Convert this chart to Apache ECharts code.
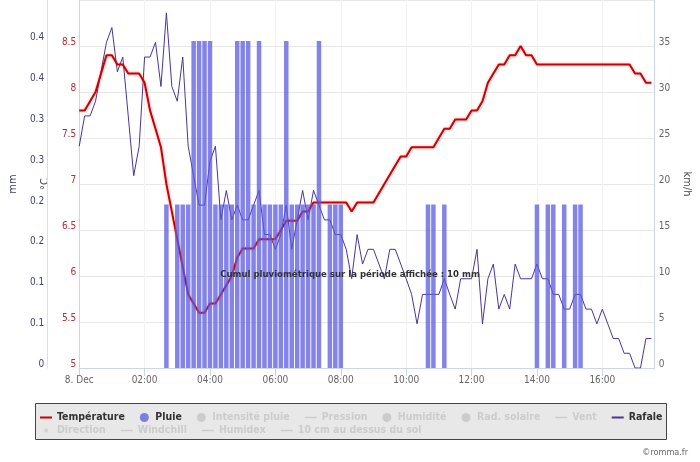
<!DOCTYPE html>
<html><head><meta charset="utf-8">
<script src="https://cdn.jsdelivr.net/npm/echarts@6/dist/echarts.min.js"></script>
<style>html,body{margin:0;padding:0;background:#fff}#c{width:700px;height:462px}</style>
</head><body><div id="c"></div>
<script>
const times = [
'00:00','00:10','00:20','00:30','00:40','00:50','01:00','01:10','01:20','01:30','01:40','01:50',
'02:00','02:10','02:20','02:30','02:40','02:50','03:00','03:10','03:20','03:30','03:40','03:50',
'04:00','04:10','04:20','04:30','04:40','04:50','05:00','05:10','05:20','05:30','05:40','05:50',
'06:00','06:10','06:20','06:30','06:40','06:50','07:00','07:10','07:20','07:30','07:40','07:50',
'08:00','08:10','08:20','08:30','08:40','08:50','09:00','09:10','09:20','09:30','09:40','09:50',
'10:00','10:10','10:20','10:30','10:40','10:50','11:00','11:10','11:20','11:30','11:40','11:50',
'12:00','12:10','12:20','12:30','12:40','12:50','13:00','13:10','13:20','13:30','13:40','13:50',
'14:00','14:10','14:20','14:30','14:40','14:50','15:00','15:10','15:20','15:30','15:40','15:50',
'16:00','16:10','16:20','16:30','16:40','16:50','17:00','17:10','17:20','17:30'];

const temperature = [
7.8,7.8,7.9,8.0,8.2,8.4,8.4,8.3,8.3,8.2,
8.2,8.2,8.1,7.8,7.6,7.4,7.0,6.7,6.4,6.1,
5.8,5.7,5.6,5.6,5.7,5.7,5.8,5.9,6.0,6.2,
6.3,6.3,6.3,6.4,6.4,6.4,6.4,6.5,6.6,6.6,
6.6,6.7,6.7,6.8,6.8,6.8,6.8,6.8,6.8,6.8,
6.7,6.8,6.8,6.8,6.8,6.9,7.0,7.1,7.2,7.3,
7.3,7.4,7.4,7.4,7.4,7.4,7.5,7.6,7.6,7.7,
7.7,7.7,7.8,7.8,7.9,8.1,8.2,8.3,8.3,8.4,
8.4,8.5,8.4,8.4,8.3,8.3,8.3,8.3,8.3,8.3,
8.3,8.3,8.3,8.3,8.3,8.3,8.3,8.3,8.3,8.3,
8.3,8.3,8.2,8.2,8.1,8.1];

const rain = [
0,0,0,0,0,0,0,0,0,0,
0,0,0,0,0,0,0.2,0,0.2,0.2,
0.2,0.4,0.4,0.4,0.4,0.2,0.2,0.2,0.2,0.4,
0.4,0.4,0.2,0.4,0.2,0.2,0.2,0.2,0.4,0.2,
0.2,0.2,0.2,0.2,0.4,0,0.2,0.2,0.2,0,
0,0,0,0,0,0,0,0,0,0,
0,0,0,0,0.2,0.2,0,0.2,0,0,
0,0,0,0,0,0,0,0,0,0,
0,0,0,0,0.2,0,0.2,0.2,0,0.2,
0,0.2,0.2,0,0,0,0,0,0,0,
0,0,0,0,0,0];

const gust = [
24.1,27.4,27.4,29.0,32.2,35.4,37.0,32.2,33.8,27.4,
20.9,24.1,33.8,33.8,35.4,30.6,38.6,30.6,29.0,33.8,
24.1,20.9,17.7,17.7,22.5,24.1,16.1,19.3,16.1,17.7,
16.1,16.1,17.7,19.3,14.5,14.5,12.9,14.5,17.7,12.9,
16.1,19.3,16.1,19.3,17.7,16.1,16.1,14.5,14.5,12.9,
9.7,14.5,11.3,12.9,12.9,11.3,9.7,12.9,12.9,11.3,
9.7,8.0,4.8,8.0,8.0,8.0,8.0,9.7,8.0,6.4,
9.7,9.7,9.7,12.9,4.8,9.7,11.3,6.4,8.0,6.4,
11.3,9.7,9.7,9.7,11.3,9.7,9.7,8.0,8.0,6.4,
6.4,8.0,8.0,6.4,6.4,4.8,6.4,4.8,3.2,3.2,
1.6,1.6,0,0,3.2,3.2];

const xTickLabels = ['8. Dec','02:00','04:00','06:00','08:00','10:00','12:00','14:00','16:00'];
const xTickValues = [0,120,240,360,480,600,720,840,960];
const mmTickLabels = ['0','0.1','0.1','0.2','0.2','0.3','0.3','0.4','0.4'];
const rainTotalText = 'Cumul pluviométrique sur la période affichée : 10 mm';
const creditText = '©romma.fr';

const FONT = "'DejaVu Sans Condensed','Liberation Sans',sans-serif";
const toMin = s => Number(s.slice(0, 2)) * 60 + Number(s.slice(3));
const pairs = arr => arr.map((v, i) => [toMin(times[i]), v]);

const LINE_ICON = 'path://M0,0H12V2H0Z';
const THIN_ICON = 'path://M0,0H12V1.4H0Z';
const DOT_ICON = 'path://M0,0H0.01V0.01H0ZM12,9H12.01V9.01H12ZM6,2.5A2,2,0,1,1,5.99,2.5Z';

const chart = echarts.init(document.getElementById('c'), null, {renderer: 'canvas'});
const emptyLine = (name) => ({name, type: 'line', yAxisIndex: 0, data: [], symbol: 'none'});

const yLabelBase = {fontSize: 10, margin: 3, showMaxLabel: false, verticalAlign: 'bottom', lineHeight: 7, fontFamily: FONT};
const legendText = {fontSize: 10.5, fontWeight: 'bold', color: '#333', fontFamily: FONT};

const option = {
  animation: false,
  textStyle: {fontFamily: FONT},
  grid: {left: 72, right: 36, top: 0, bottom: 94, containLabel: false},
  xAxis: {
    type: 'value', min: 0, max: 1056, interval: 120,
    axisLine: {show: true, lineStyle: {color: '#ccd6eb'}},
    axisTick: {show: true, length: 8, customValues: xTickValues, lineStyle: {color: '#ccd6eb'}},
    axisLabel: {customValues: xTickValues, formatter: v => xTickLabels[xTickValues.indexOf(v)] || '',
      color: '#666', fontSize: 10, margin: 7, fontFamily: FONT},
    splitLine: {show: true, lineStyle: {color: '#f2f2f2'}}
  },
  yAxis: [
    {type: 'value', min: 5, max: 9, interval: 0.5, position: 'left',
      name: '°C', nameLocation: 'middle', nameGap: 26, nameRotate: 90,
      nameTextStyle: {color: '#444', fontSize: 11, fontFamily: FONT},
      axisLine: {show: true, lineStyle: {color: '#ccd6eb'}}, axisTick: {show: false},
      axisLabel: Object.assign({color: '#a33'}, yLabelBase),
      splitLine: {show: true, lineStyle: {color: '#e8e8e8'}}},
    {type: 'value', min: 0, max: 0.45, interval: 0.05, position: 'left', offset: 32,
      name: 'mm', nameLocation: 'middle', nameGap: 26, nameRotate: 90,
      nameTextStyle: {color: '#3d3d6b', fontSize: 11, fontFamily: FONT},
      axisLine: {show: true, lineStyle: {color: '#dde'}}, axisTick: {show: false},
      axisLabel: Object.assign({color: '#447',
        formatter: (v, i) => (mmTickLabels[i] !== undefined ? mmTickLabels[i] : '')}, yLabelBase),
      splitLine: {show: false}},
    {type: 'value', min: 0, max: 40, interval: 5, position: 'right',
      name: 'km/h', nameLocation: 'middle', nameGap: 22, nameRotate: -90,
      nameTextStyle: {color: '#444', fontSize: 11, fontFamily: FONT},
      axisLine: {show: true, lineStyle: {color: '#ccd6eb'}}, axisTick: {show: false},
      axisLabel: Object.assign({color: '#666'}, yLabelBase, {margin: 4}),
      splitLine: {show: false}}
  ],
  legend: [
    {left: 40, top: 412, padding: 0, itemGap: 15, itemWidth: 12, itemHeight: 9, z: 10,
      textStyle: legendText, inactiveColor: '#ccc', inactiveBorderColor: '#ccc',
      data: [{name: 'Température', icon: LINE_ICON}, {name: 'Pluie', icon: 'circle'}, {name: 'Intensité pluie', icon: 'circle'},
        {name: 'Pression', icon: THIN_ICON}, {name: 'Humidité', icon: 'circle'}, {name: 'Rad. solaire', icon: 'circle'},
        {name: 'Vent', icon: THIN_ICON}, {name: 'Rafale', icon: LINE_ICON}],
      selected: {'Intensité pluie': false, 'Pression': false, 'Humidité': false, 'Rad. solaire': false, 'Vent': false}},
    {left: 40, top: 425, padding: 0, itemGap: 15, itemWidth: 12, itemHeight: 9, z: 10,
      textStyle: legendText, inactiveColor: '#ccc', inactiveBorderColor: '#ccc',
      data: [{name: 'Direction', icon: DOT_ICON}, {name: 'Windchill', icon: THIN_ICON}, {name: 'Humidex', icon: THIN_ICON},
        {name: '10 cm au dessus du sol', icon: THIN_ICON}],
      selected: {'Direction': false, 'Windchill': false, 'Humidex': false, '10 cm au dessus du sol': false}}
  ],
  graphic: [
    {type: 'rect', z: 1, shape: {x: 35.5, y: 403.5, width: 631, height: 36},
      style: {fill: '#e8e8e8', stroke: '#444', lineWidth: 1}},
    {type: 'text', z: 100, x: 350, y: 275,
      style: {text: rainTotalText, font: "bold 9.5px " + FONT, fill: '#333', align: 'center', verticalAlign: 'middle'}},
    {type: 'text', z: 100, x: 688, y: 453,
      style: {text: creditText, font: "9px " + FONT, fill: '#666', align: 'right', verticalAlign: 'middle'}}
  ],
  series: [
    {name: 'Température', type: 'line', yAxisIndex: 0, data: pairs(temperature), symbol: 'none', z: 3,
      lineStyle: {color: '#cc0000', width: 2, shadowColor: 'rgba(220,0,0,0.35)', shadowBlur: 3},
      itemStyle: {color: '#cc0000'}},
    {name: 'Pluie', type: 'bar', yAxisIndex: 1, data: pairs(rain), barWidth: 4.5, z: 4,
      itemStyle: {color: '#5a5ae0', opacity: 0.75}},
    emptyLine('Intensité pluie'), emptyLine('Pression'), emptyLine('Humidité'), emptyLine('Rad. solaire'),
    emptyLine('Vent'),
    {name: 'Rafale', type: 'line', yAxisIndex: 2, data: pairs(gust), symbol: 'none', z: 2,
      lineStyle: {color: '#4b3596', width: 1}, itemStyle: {color: '#4b3596'}},
    {name: 'Direction', type: 'scatter', yAxisIndex: 0, data: []},
    emptyLine('Windchill'), emptyLine('Humidex'), emptyLine('10 cm au dessus du sol')
  ]
};
chart.setOption(option);
</script></body></html>
